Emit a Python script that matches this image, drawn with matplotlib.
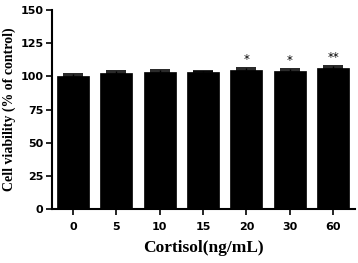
import matplotlib
matplotlib.use("Agg")
import matplotlib.pyplot as plt
import numpy as np

categories = ["0", "5", "10", "15", "20", "30", "60"]
values = [100.0, 102.8, 103.5, 103.5, 104.8, 104.3, 106.5]
errors = [1.5, 1.3, 1.5, 0.5, 1.7, 1.5, 1.3]
marks = ["", "", "", "", "*", "*", "**"]
yticks = [0, 25, 50, 75, 100, 125, 150]

fig = plt.figure(figsize=(3.58, 2.63), dpi=100)
ax = fig.add_axes([0.145, 0.205, 0.847, 0.757])

x = np.arange(len(categories))
ax.bar(x, values, width=0.74, color="black", edgecolor="black", linewidth=0.5, zorder=2)
ax.errorbar(x, values, yerr=[np.zeros(len(errors)), errors], fmt="none",
            ecolor="black", elinewidth=1.0, capsize=7, capthick=1.2, zorder=3)
for xi, v, e, m in zip(x, values, errors, marks):
    if m:
        ax.text(xi, v + e + 1.2, m, ha="center", va="bottom", fontsize=8.5,
                family="DejaVu Sans", color="black")

ax.set_xlim(-0.485, 6.51)
ax.set_ylim(0, 150)
ax.set_yticks(yticks)
ax.set_xticks(x)
ax.set_xticklabels(categories)
for lbl in ax.get_xticklabels() + ax.get_yticklabels():
    lbl.set_family("DejaVu Sans")
    lbl.set_fontweight("bold")
    lbl.set_fontsize(8)
ax.tick_params(axis="both", direction="out", length=4, width=1.2, pad=2)
ax.tick_params(axis="x", pad=5)
ax.spines["top"].set_visible(False)
ax.spines["right"].set_visible(False)
ax.spines["left"].set_linewidth(1.5)
ax.spines["bottom"].set_linewidth(1.5)

ax.set_xlabel("Cortisol(ng/mL)", family="Liberation Serif", fontweight="bold",
              fontsize=12.5, labelpad=6)
ax.set_ylabel("Cell viability (% of control)", family="Liberation Serif",
              fontweight="bold", fontsize=10, labelpad=3)

fig.savefig("out.png", dpi=100)
